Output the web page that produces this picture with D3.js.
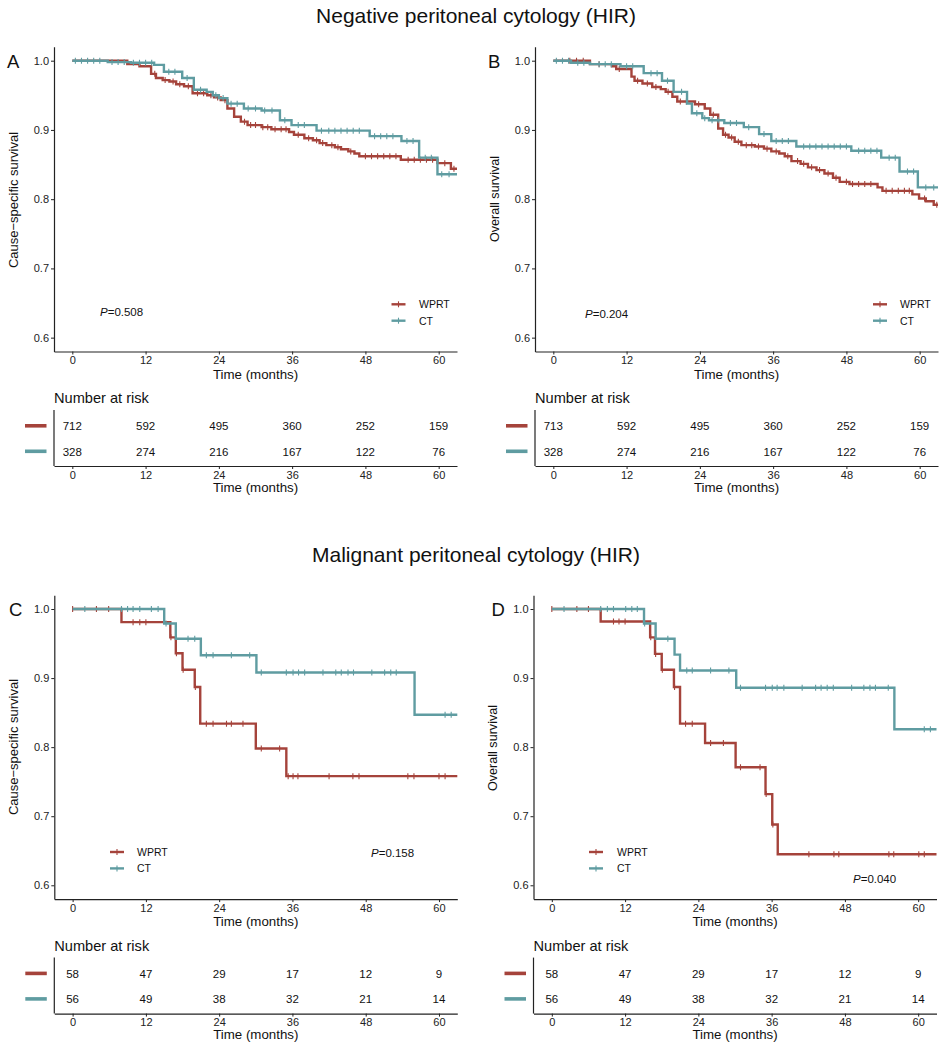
<!DOCTYPE html>
<html><head><meta charset="utf-8">
<script src="https://cdn.jsdelivr.net/npm/d3@7"></script>
<style>body{margin:0;background:#fff} svg{font-family:Arial,"Liberation Sans",sans-serif}</style>
</head><body>
<svg id="c" width="948" height="1050"></svg>
<script>
// ---------- data ----------
const timeTicks = [0, 12, 24, 36, 48, 60];
const survTicks = [0.6, 0.7, 0.8, 0.9, 1.0];
const groupNames = ["WPRT", "CT"];
const titles = ["Negative peritoneal cytology (HIR)", "Malignant peritoneal cytology (HIR)"];
const panelLetters = ["A", "B", "C", "D"];
const yTitles = ["Cause\u2212specific survival", "Overall survival", "Cause\u2212specific survival", "Overall survival"];
const pValues = ["0.508", "0.204", "0.158", "0.040"];

// Panel A
const A_wprt_t = [0, 9, 11, 12.9, 13.7, 14.8, 15.9, 17, 18.3, 19.7, 22.1, 23.2, 24.3, 25.4, 26.5, 27.6, 28.7, 31, 32.6, 35.5, 36.3, 38, 39.4, 40.5, 41.6, 43, 44, 45.2, 46.2, 47, 53.8, 59.8, 62];
const A_wprt_s = [1, 0.995, 0.992, 0.981, 0.975, 0.972, 0.970, 0.966, 0.963, 0.953, 0.950, 0.947, 0.943, 0.931, 0.919, 0.912, 0.907, 0.904, 0.901, 0.897, 0.893, 0.888, 0.885, 0.881, 0.878, 0.875, 0.872, 0.869, 0.866, 0.862, 0.857, 0.852, 0.844];
const A_wprt_c = [13.5, 15.2, 16.5, 17.6, 19, 20.5, 21.5, 22.7, 23.8, 25, 28.2, 29.2, 30, 31.2, 32, 33.2, 34.2, 35, 37, 38.7, 40, 41, 42.5, 43.5, 45.6, 48, 49, 50, 51, 52, 53, 55, 56, 57, 58, 59, 61, 62.5];
const A_ct_t = [0, 5.8, 9.6, 13.4, 15, 18, 19.9, 22, 23, 24, 25.4, 28.1, 31, 34, 35.9, 40, 48.7, 53.9, 56.8, 59.8];
const A_ct_s = [1, 0.998, 0.997, 0.994, 0.984, 0.975, 0.958, 0.955, 0.950, 0.946, 0.938, 0.931, 0.928, 0.914, 0.907, 0.899, 0.891, 0.884, 0.860, 0.836];
const A_ct_c = [0.5, 1.5, 2.5, 3.5, 4.5, 6.5, 7.5, 8.5, 10, 11, 12, 13, 15.8, 16.8, 18.8, 21, 23.5, 24.7, 26, 27, 28.8, 30, 31.5, 32.7, 34.8, 37, 38, 40.8, 42, 43, 44, 45, 46, 47, 49.5, 50.5, 51.5, 52.5, 54.8, 55.8, 57.8, 58.8, 60.5, 61.7];
const A_risk_wprt = [712, 592, 495, 360, 252, 159];
const A_risk_ct = [328, 274, 216, 167, 122, 76];

// Panel B
const B_wprt_t = [0, 6, 9.6, 10.3, 12.8, 13.3, 14.6, 16.2, 17.6, 18.4, 19.5, 20.3, 23.2, 24.8, 25.7, 27, 27.8, 28.7, 29.7, 30.8, 33, 34.5, 35.7, 37, 37.9, 39, 40.5, 41.7, 43.1, 44.4, 45.8, 46.9, 48.5, 53.1, 53.9, 58.8, 59.9, 61, 62.3];
const B_wprt_s = [1, 0.995, 0.992, 0.988, 0.977, 0.971, 0.967, 0.962, 0.959, 0.955, 0.948, 0.941, 0.937, 0.931, 0.922, 0.902, 0.893, 0.889, 0.883, 0.878, 0.876, 0.873, 0.869, 0.866, 0.862, 0.855, 0.851, 0.846, 0.842, 0.837, 0.831, 0.825, 0.822, 0.817, 0.812, 0.807, 0.801, 0.797, 0.792];
const B_wprt_c = [2.7, 3.8, 4.9, 7.5, 10.8, 13.8, 15.4, 16.8, 18.8, 20.8, 21.8, 23.8, 26.2, 28.2, 29.2, 30.3, 31.6, 32.5, 33.6, 35, 36.5, 38.4, 40, 41, 42.3, 43.6, 45, 46.3, 48, 49, 50, 51, 52, 54.5, 55.5, 56.5, 57.5, 58.3, 60.8, 62.8];
const B_ct_t = [0, 2.9, 6, 11, 14.8, 17.8, 19.7, 21.9, 22.7, 24.4, 25.5, 28, 31.2, 33.7, 35.7, 39.8, 48.8, 53.7, 56.7, 59.7];
const B_ct_s = [1, 0.997, 0.995, 0.992, 0.982, 0.971, 0.955, 0.938, 0.924, 0.917, 0.914, 0.910, 0.904, 0.894, 0.884, 0.876, 0.870, 0.860, 0.840, 0.817];
const B_ct_c = [0.5, 1.5, 2.5, 4, 5, 7.5, 8.5, 9.5, 12, 13, 16, 17, 18.7, 21, 23.5, 24.8, 26, 27, 29, 30, 32, 34.5, 36.5, 37.5, 38.5, 41, 42, 43, 44, 45, 46, 47, 48, 50, 51, 52, 53, 55, 56, 58, 59, 61, 62.3];
const B_risk_wprt = [713, 592, 495, 360, 252, 159];
const B_risk_ct = [328, 274, 216, 167, 122, 76];

// Panel C
const C_wprt_t = [0, 8, 16, 16.9, 18, 20, 20.9, 30, 35];
const C_wprt_s = [1, 0.981, 0.959, 0.936, 0.912, 0.887, 0.834, 0.798, 0.758];
const C_wprt_c = [0, 3.9, 5.9, 9.9, 11, 12, 16.1, 17.0, 18.1, 20.1, 21.9, 23, 25.2, 26, 27.9, 30.9, 33.9, 35.3, 36.1, 36.9, 42, 45.9, 46.9, 54.9, 55.9, 60, 61];
const C_ct_t = [0, 15, 16.9, 21, 30.1, 56];
const C_ct_s = [1, 0.979, 0.957, 0.933, 0.908, 0.847];
const C_ct_c = [2, 8, 9, 9.9, 11, 12.9, 14, 15.3, 18.9, 20, 21.9, 23, 26, 29, 30.9, 35, 36.1, 37, 38, 41, 43.1, 44, 45.1, 46, 49, 51.1, 52.1, 53, 61, 62];
const C_risk_wprt = [58, 47, 29, 17, 12, 9];
const C_risk_ct = [56, 49, 38, 32, 21, 14];

// Panel D
const D_wprt_t = [0, 8, 16.1, 16.9, 18, 20, 21, 25.1, 30.1, 35, 36.1, 37];
const D_wprt_s = [1, 0.982, 0.959, 0.935, 0.912, 0.887, 0.834, 0.806, 0.771, 0.732, 0.688, 0.645];
const D_wprt_c = [0, 4.1, 6, 10.1, 11, 12, 16.2, 17.0, 18.1, 20.1, 21.9, 23, 26, 28.1, 30.9, 34.1, 35.1, 36.2, 42.1, 46.2, 47, 55.2, 56, 60.1, 61];
const D_ct_t = [0, 15.1, 17, 20.1, 21, 30.2, 56.1];
const D_ct_s = [1, 0.979, 0.957, 0.934, 0.911, 0.886, 0.826];
const D_ct_c = [2, 8, 9.1, 10.1, 12.1, 13.1, 14, 15.2, 19, 22.1, 23, 26, 29, 30.9, 35, 36.1, 36.9, 38, 41, 43.2, 44.1, 45.1, 46.1, 49.1, 51.1, 52.1, 53, 55.1, 61, 62];
const D_risk_wprt = [58, 47, 29, 17, 12, 9];
const D_risk_ct = [56, 49, 38, 32, 21, 14];

// ---------- drawing ----------
const colors = ["#A5433B", "#5F9CA1"];
const svg = d3.select("#c");
const axisCol = "#222";

svg.append("text").attr("x", 476).attr("y", 23).attr("text-anchor", "middle")
  .attr("font-size", 21).attr("fill", "#111").text(titles[0]);
svg.append("text").attr("x", 476).attr("y", 562).attr("text-anchor", "middle")
  .attr("font-size", 21).attr("fill", "#111").text(titles[1]);

function stepVal(ts, ss, t) {
  let v = ss[0];
  for (let i = 0; i < ts.length; i++) if (ts[i] <= t) v = ss[i];
  return v;
}

const panels = [
  {x0: 54, x1: 457, top: 46.85, bot: 351.5, curves: [[A_wprt_t, A_wprt_s, A_wprt_c], [A_ct_t, A_ct_s, A_ct_c]], risk: [A_risk_wprt, A_risk_ct],
   leg: {kx: 398.5, tx: 419, y: 304.3}, p: {x: 100, y: 316}, lab: {x: 7, y: 68}, yt: {x: 17.5, y: 200}},
  {x0: 535, x1: 938, top: 46.85, bot: 351.5, curves: [[B_wprt_t, B_wprt_s, B_wprt_c], [B_ct_t, B_ct_s, B_ct_c]], risk: [B_risk_wprt, B_risk_ct],
   leg: {kx: 880, tx: 900, y: 304.3}, p: {x: 585, y: 318}, lab: {x: 488, y: 68}, yt: {x: 498.5, y: 199}},
  {x0: 54.3, x1: 457.3, top: 595.2, bot: 899.1, curves: [[C_wprt_t, C_wprt_s, C_wprt_c], [C_ct_t, C_ct_s, C_ct_c]], risk: [C_risk_wprt, C_risk_ct],
   leg: {kx: 117, tx: 137, y: 852}, p: {x: 371, y: 856.7}, lab: {x: 9, y: 616}, yt: {x: 17.8, y: 747}},
  {x0: 533.5, x1: 936.5, top: 595.2, bot: 899.1, curves: [[D_wprt_t, D_wprt_s, D_wprt_c], [D_ct_t, D_ct_s, D_ct_c]], risk: [D_risk_wprt, D_risk_ct],
   leg: {kx: 596, tx: 617, y: 852}, p: {x: 853, y: 882.7}, lab: {x: 491.5, y: 616}, yt: {x: 497, y: 748}}
];

panels.forEach((o, pi) => {
  const x = d3.scaleLinear().domain([-3, 63]).range([o.x0, o.x1]);
  const y = d3.scaleLinear().domain([0.58, 1.02]).range([o.bot, o.top]);
  const g = svg.append("g");
  const cid = "clip" + pi;
  svg.append("clipPath").attr("id", cid).append("rect")
    .attr("x", o.x0).attr("y", o.top - 5).attr("width", o.x1 - o.x0).attr("height", o.bot - o.top + 5);

  const line = d3.line().x(d => x(d[0])).y(d => y(d[1])).curve(d3.curveStepAfter);
  const cg = g.append("g").attr("clip-path", `url(#${cid})`);
  o.curves.forEach((c, ci) => {
    const [ts, ss, cs] = c;
    const pts = ts.map((t, i) => [t, ss[i]]);
    pts.push([64, ss[ss.length - 1]]);
    cg.append("path").attr("d", line(pts)).attr("fill", "none")
      .attr("stroke", colors[ci]).attr("stroke-width", 2.4);
    cs.forEach(t => {
      const v = stepVal(ts, ss, t);
      cg.append("line").attr("x1", x(t)).attr("x2", x(t)).attr("y1", y(v) - 3).attr("y2", y(v) + 3)
        .attr("stroke", colors[ci]).attr("stroke-width", 1.1);
    });
  });

  // axes
  const ya = g.append("g").attr("transform", `translate(${o.x0},0)`)
    .call(d3.axisLeft(y).tickValues(survTicks).tickFormat(d3.format(".1f")).tickSize(3).tickSizeOuter(0).tickPadding(2));
  const xa = g.append("g").attr("transform", `translate(0,${o.bot})`)
    .call(d3.axisBottom(x).tickValues(timeTicks).tickSize(3).tickSizeOuter(0).tickPadding(2));
  [ya, xa].forEach(a => {
    a.select(".domain").attr("stroke", axisCol).attr("stroke-width", 1.2);
    a.selectAll(".tick line").attr("stroke", axisCol);
    a.selectAll(".tick text").attr("font-size", 11).attr("fill", "#222").attr("font-family", "Arial, 'Liberation Sans', sans-serif");
  });

  g.append("text").attr("x", (x(0) + x(60)) / 2).attr("y", o.bot + 27).attr("text-anchor", "middle")
    .attr("font-size", 13.3).attr("fill", "#111").text("Time (months)");
  g.append("text").attr("transform", `translate(${o.yt.x},${o.yt.y}) rotate(-90)`).attr("text-anchor", "middle")
    .attr("font-size", pi % 2 ? 12.6 : 13).attr("fill", "#111").text(yTitles[pi]);
  g.append("text").attr("x", o.lab.x).attr("y", o.lab.y).attr("font-size", 18.5).attr("fill", "#111").text(panelLetters[pi]);

  // legend
  groupNames.forEach((nm, gi) => {
    const ly = o.leg.y + gi * 16.4;
    g.append("line").attr("x1", o.leg.kx - 7).attr("x2", o.leg.kx + 7).attr("y1", ly).attr("y2", ly)
      .attr("stroke", colors[gi]).attr("stroke-width", 2.4);
    g.append("line").attr("x1", o.leg.kx).attr("x2", o.leg.kx).attr("y1", ly - 3).attr("y2", ly + 3)
      .attr("stroke", colors[gi]).attr("stroke-width", 1.1);
    g.append("text").attr("x", o.leg.tx).attr("y", ly + 4).attr("font-size", 10.5).attr("fill", "#111").text(nm);
  });
  const pt = g.append("text").attr("x", o.p.x).attr("y", o.p.y).attr("font-size", 11.5).attr("fill", "#111");
  pt.append("tspan").attr("font-style", "italic").text("P");
  pt.append("tspan").text("=" + pValues[pi]);

  // risk table
  const t0 = o.bot + 58.5, t1 = o.bot + 114.5;
  g.append("text").attr("x", o.x0).attr("y", o.bot + 51.6).attr("font-size", 14.6).attr("fill", "#111").text("Number at risk");
  g.append("line").attr("x1", o.x0).attr("x2", o.x0).attr("y1", t0).attr("y2", t1).attr("stroke", axisCol).attr("stroke-width", 1.2);
  const ta = g.append("g").attr("transform", `translate(0,${t1})`)
    .call(d3.axisBottom(x).tickValues(timeTicks).tickSize(3).tickSizeOuter(0).tickPadding(2));
  ta.select(".domain").attr("stroke", axisCol).attr("stroke-width", 1.2);
  ta.selectAll(".tick line").attr("stroke", axisCol);
  ta.selectAll(".tick text").attr("font-size", 11).attr("fill", "#222").attr("font-family", "Arial, 'Liberation Sans', sans-serif");
  g.append("text").attr("x", (x(0) + x(60)) / 2).attr("y", t1 + 25.5).attr("text-anchor", "middle")
    .attr("font-size", 13.3).attr("fill", "#111").text("Time (months)");
  o.risk.forEach((vals, gi) => {
    const ry = o.bot + 74.3 + gi * 25.5;
    g.append("line").attr("x1", o.x0 - 29).attr("x2", o.x0 - 7.5).attr("y1", ry).attr("y2", ry)
      .attr("stroke", colors[gi]).attr("stroke-width", 3.6);
    vals.forEach((v, i) => {
      g.append("text").attr("x", x(timeTicks[i])).attr("y", ry + 4.2).attr("text-anchor", "middle")
        .attr("font-size", 11.5).attr("fill", "#111").text(v);
    });
  });
});
</script>
</body></html>
